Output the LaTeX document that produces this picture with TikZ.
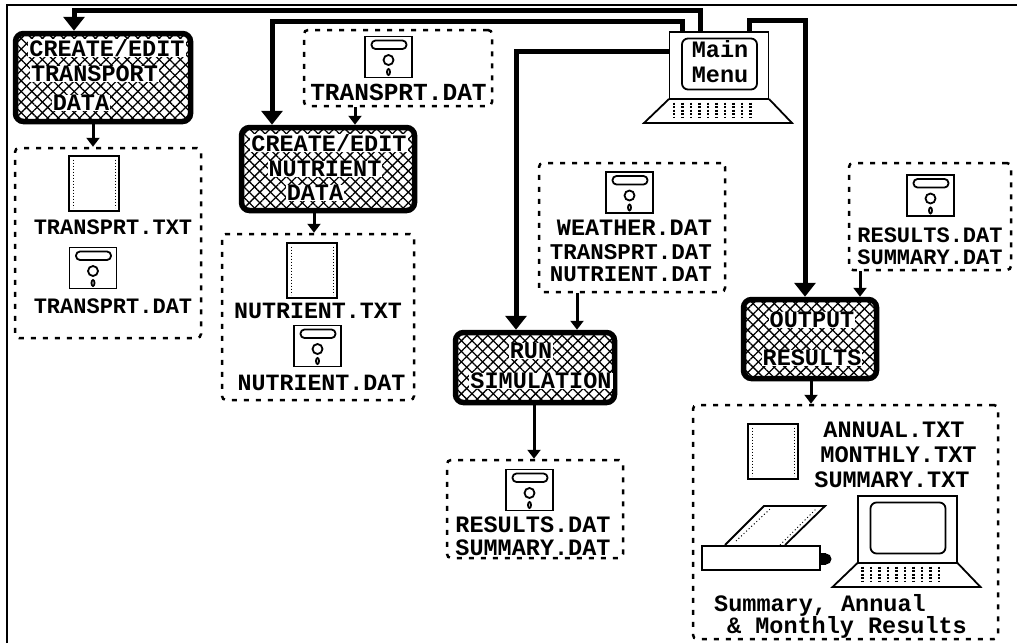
\documentclass[tikz,border=0pt]{standalone}
\usepackage{fontspec}
\setmonofont{Liberation Mono}
\usetikzlibrary{arrows.meta, patterns.meta}

\begin{document}
\begin{tikzpicture}[
    x=1pt, y=-1pt,
    font=\ttfamily\bfseries\fontsize{22}{24}\selectfont,
    sized/.style={font=\ttfamily\bfseries\fontsize{#1}{24}\selectfont},
    procbox/.style={rectangle, draw, line width=5.5pt, rounded corners=8pt, inner sep=0pt,
        preaction={pattern={Lines[angle=45,distance=7.5pt,line width=1.3pt]}},
        preaction={pattern={Lines[angle=-45,distance=7.5pt,line width=1.3pt]}}},
    filebox/.style={rectangle, draw, line width=2.5pt, dash pattern=on 5pt off 7pt, rounded corners=4pt, inner sep=0pt},
    label/.style={inner sep=0pt},
    proclabel/.style={label, fill=white, inner xsep=1pt, sized=23.5},
    heavy/.style={-{Triangle[width=21pt,length=14pt]}, line width=5pt},
    arrow/.style={-{Triangle[width=13pt,length=9pt]}, line width=3pt},
    icon/.style={line width=1.8pt},
    floppy/.pic={
        \draw [icon] (-23.5,-20.5) rectangle (23.5,20.5);
        \draw [icon, rounded corners=4pt] (-17,-16.5) rectangle (18,-8);
        \draw [icon] (0,3) circle (5pt);
        \draw [icon] (0,15) ellipse (1.5pt and 3pt);
    },
    sheet/.pic={
        \draw [icon] (-25,-27.5) rectangle (25,27.5);
        \draw [line width=1pt, dash pattern=on 1pt off 2pt] (-21,-24) -- (-21,24);
        \draw [line width=1pt, dash pattern=on 1pt off 2pt] (21,-24) -- (21,24);
    },
    laptop/.pic={
        \node (-mon) [draw, line width=1.8pt, minimum width=99pt, minimum height=67pt, inner sep=0pt] at (0,0) {};
        \draw [icon, rounded corners=6pt] (-37,-27) rectangle (38,24);
        \draw [icon] (-50,33.5) -- (-75,57.5) -- (73,57.5) -- (50,33.5);
        \foreach \dotx in {0,...,9}
            \draw [line width=2.5pt, dash pattern=on 2pt off 1.5pt] (-45+8.5*\dotx,37) -- (-45+8.5*\dotx,52);
    }
]

% frame
\useasboundingbox (0,0) rectangle (1017,643);
\draw [line width=1.2pt] (7,643) -- (7,5) -- (1017,5);

% main menu
\pic (menu) at (719,65.5) {laptop};
\node (mainA) [label, sized=23.5] at (720,49) {Main};
\node (mainB) [label, sized=23.5] at (720,75) {Menu};

% process boxes
\node (tranbox) [procbox, minimum width=175pt, minimum height=88pt] at (103,77.5) {};
\node (nutrbox) [procbox, minimum width=173pt, minimum height=83pt] at (328,169) {};
\node (simbox)  [procbox, minimum width=159pt, minimum height=70pt] at (535,367.5) {};
\node (outbox)  [procbox, minimum width=133pt, minimum height=79pt] at (810,339) {};

\node (tranA) [proclabel] at (107,48) {CREATE/EDIT};
\node (tranB) [proclabel] at (94.5,74) {TRANSPORT};
\node (tranC) [proclabel] at (81,103) {DATA};
\node (nutrA) [proclabel] at (329,143) {CREATE/EDIT};
\node (nutrB) [proclabel] at (325,169) {NUTRIENT};
\node (nutrC) [proclabel] at (315,193) {DATA};
\node (simA) [proclabel] at (531,351) {RUN};
\node (simB) [proclabel] at (541,381) {SIMULATION};
\node (outA) [proclabel] at (812,320) {OUTPUT};
\node (outB) [proclabel] at (812,358) {RESULTS};

% file boxes
\node (tranout) [filebox, minimum width=186pt, minimum height=190pt] at (108,243) {};
\node (tranin)  [filebox, minimum width=188pt, minimum height=76pt] at (398,68) {};
\node (nutrout) [filebox, minimum width=192pt, minimum height=166pt] at (318,317) {};
\node (simin)   [filebox, minimum width=186pt, minimum height=129pt] at (632,227.5) {};
\node (simout)  [filebox, minimum width=176pt, minimum height=98pt] at (535,509) {};
\node (outin)   [filebox, minimum width=162pt, minimum height=107pt] at (930,216.5) {};
\node (outout)  [filebox, minimum width=305pt, minimum height=234pt] at (845.5,522) {};

% icons
\pic at (94,183.5) {sheet};
\pic at (93,268) {floppy};
\pic at (388.5,57) {floppy};
\pic at (312,270.5) {sheet};
\pic at (317.5,346) {floppy};
\pic at (629.5,192.5) {floppy};
\pic at (529.5,490) {floppy};
\pic at (930.5,195.5) {floppy};
\pic at (773,451.5) {sheet};
\pic at (907.5,529.5) {laptop};
\draw [icon, fill=white] (702,546) rectangle (820,570);
\fill (820,553) rectangle (826,565);
\fill (826,559) circle (5.5pt);
\draw [icon] (725,545) -- (764,506) -- (825,506) -- (785,545);
\draw [line width=1pt, dash pattern=on 1pt off 2.5pt] (736,541) -- (770,509);
\draw [line width=1pt, dash pattern=on 1pt off 2.5pt] (780,545) -- (816,509);

% file names
\node (lab1) [label] at (113,227) {TRANSPRT.TXT};
\node (lab2) [label] at (113,306) {TRANSPRT.DAT};
\node (lab3) [label, sized=24.5] at (398.5,92) {TRANSPRT.DAT};
\node (lab4) [label, sized=23.3] at (318,311) {NUTRIENT.TXT};
\node (lab5) [label, sized=23.3] at (321.5,383) {NUTRIENT.DAT};
\node (lab6) [label, sized=23.5] at (634.5,228) {WEATHER.DAT};
\node (lab7) [label, sized=22.5] at (631,252) {TRANSPRT.DAT};
\node (lab8) [label, sized=22.5] at (631,274) {NUTRIENT.DAT};
\node (lab9) [label, sized=23.5] at (533,525) {RESULTS.DAT};
\node (lab10) [label, sized=23.5] at (533,548) {SUMMARY.DAT};
\node (lab11) [label] at (930,235) {RESULTS.DAT};
\node (lab12) [label] at (930,257) {SUMMARY.DAT};
\node (lab13) [label, sized=23.5] at (894,430) {ANNUAL.TXT};
\node (lab14) [label, sized=23.7] at (898.5,455) {MONTHLY.TXT};
\node (lab15) [label, sized=23.5] at (892,480) {SUMMARY.TXT};
\node (lab16) [label, sized=23.5] at (820,605.5) {Summary, Annual};
\node (lab17) [label, sized=23.5] at (847,627.5) {\& Monthly Results};

% connectors
\draw [heavy] ([xshift=-19pt]menu-mon.north) -- ++(0,-21) -| ([xshift=-29pt]tranbox.north);
\draw [heavy] ([xshift=-37pt]menu-mon.north) -- ++(0,-10) -| ([xshift=-56pt]nutrbox.north);
\draw [heavy] ([yshift=14.5pt]menu-mon.west) -| ([xshift=-19pt]simbox.north);
\draw [heavy] ([xshift=30pt]menu-mon.north) -- ++(0,-11) -| ([xshift=-5pt]outbox.north);
\draw [arrow] ([xshift=-10pt]tranbox.south) -- (tranout.north -| 93,0);
\draw [arrow] (tranin.south -| 355,0) -- ([xshift=27pt]nutrbox.north);
\draw [arrow] ([xshift=-14pt]nutrbox.south) -- (nutrout.north -| 314,0);
\draw [arrow] (simin.south -| 577,0) -- ([xshift=42pt]simbox.north);
\draw [arrow] ([xshift=-1pt]simbox.south) -- (simout.north -| 534,0);
\draw [arrow] (outin.south -| 860,0) -- ([xshift=50pt]outbox.north);
\draw [arrow] ([xshift=1pt]outbox.south) -- (outout.north -| 811,0);

\end{tikzpicture}
\end{document}
